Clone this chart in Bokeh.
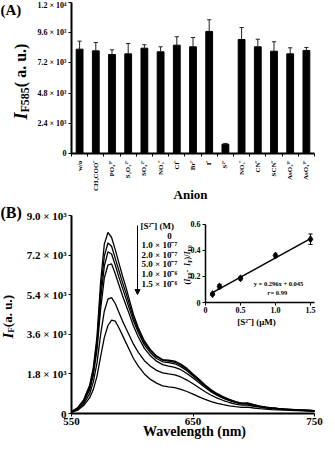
import math
from bokeh.plotting import figure
from bokeh.layouts import column
from bokeh.models import Range1d, LinearAxis, FixedTicker, Label, Arrow, NormalHead
from bokeh.embed import file_html
from bokeh.resources import INLINE

# ---------------- data: panel A ----------------
anions = ["w/o", "CH₃COO⁻", "PO₄³⁻", "S₂O₃²⁻", "SO₄²⁻", "NO₃⁻", "Cl⁻", "Br⁻",
          "I⁻", "S²⁻", "NO₂⁻", "CN⁻", "SCN⁻", "AsO₃³⁻", "AsO₄³⁻"]
intensity = [8290, 8160, 7870, 7920, 8370, 8080, 8610, 8480, 9700, 740,
             9060, 8480, 8130, 7920, 8190]
intensity_err = [640, 660, 370, 820, 270, 400, 670, 740, 930, 60,
                 950, 600, 750, 480, 240]
a_yticks = [0, 2400, 4800, 7200, 9600, 12000]
a_ylabels = ["0", "2.4 × 10³", "4.8 × 10³", "7.2 × 10³", "9.6 × 10³", "1.2 × 10⁴"]

# ---------------- data: panel B ----------------
wavelength = [550, 555, 560, 565, 568, 571, 574, 577, 580, 583, 586, 589, 592, 595,
              598, 601, 605, 610, 615, 620, 625, 630, 635, 640, 645, 650, 655, 660,
              665, 670, 675, 680, 685, 690, 695, 700, 705, 710, 715, 720, 725, 730,
              735, 740, 745, 750]
spec_0 = [90, 260, 620, 1300, 2100, 3500, 6000, 7700, 8230, 8000, 7450, 6850, 6250, 5700,
          5100, 4500, 3900, 3300, 2900, 2620, 2450, 2420, 2380, 2250, 2050, 1800, 1560, 1300,
          1080, 900, 760, 640, 540, 470, 480, 400, 340, 290, 260, 230, 210, 190,
          170, 160, 150, 130]
spec_1 = [80, 240, 580, 1220, 1980, 3300, 5600, 7150, 7750, 7600, 7050, 6500, 5950, 5450,
          4900, 4350, 3800, 3220, 2850, 2580, 2420, 2380, 2330, 2200, 2000, 1760, 1520, 1270,
          1050, 880, 740, 620, 530, 460, 460, 390, 330, 285, 250, 225, 200, 185,
          165, 155, 145, 125]
spec_2 = [75, 230, 560, 1150, 1880, 3100, 5200, 6700, 7350, 7250, 6750, 6200, 5700, 5200,
          4700, 4200, 3680, 3120, 2760, 2500, 2350, 2310, 2260, 2130, 1940, 1710, 1480, 1240,
          1030, 860, 720, 610, 520, 450, 450, 380, 325, 280, 245, 220, 195, 180,
          160, 150, 140, 120]
spec_3 = [70, 210, 520, 1080, 1760, 2900, 4750, 6150, 6750, 6800, 6350, 5850, 5350, 4900,
          4450, 3980, 3480, 2960, 2620, 2380, 2220, 2150, 2100, 1990, 1820, 1610, 1400, 1180,
          980, 820, 690, 580, 500, 440, 430, 370, 315, 270, 240, 215, 190, 175,
          160, 145, 135, 120]
spec_4 = [60, 180, 440, 900, 1450, 2300, 3600, 4650, 5200, 5270, 5000, 4600, 4200, 3850,
          3500, 3150, 2780, 2400, 2150, 1960, 1850, 1800, 1760, 1660, 1520, 1350, 1170, 990,
          830, 700, 590, 500, 430, 380, 380, 330, 285, 250, 220, 200, 180, 165,
          150, 140, 130, 115]
spec_5 = [50, 150, 360, 720, 1100, 1700, 2600, 3450, 4000, 4240, 4200, 3900, 3550, 3200,
          2850, 2500, 2150, 1800, 1550, 1380, 1260, 1210, 1180, 1100, 1000, 880, 760, 640,
          540, 460, 400, 350, 310, 280, 290, 250, 220, 200, 180, 165, 150, 140,
          130, 120, 110, 100]
spectra = [spec_0, spec_1, spec_2, spec_3, spec_4, spec_5]
conc_labels = ["0", "1.0 × 10⁻⁷", "2.0 × 10⁻⁷", "5.0 × 10⁻⁷", "1.0 × 10⁻⁶", "1.5 × 10⁻⁶"]
b_yticks = [0, 1800, 3600, 5400, 7200, 9000]
b_ylabels = ["0", "1.8 × 10³", "3.6 × 10³", "5.4 × 10³", "7.2 × 10³", "9.0 × 10³"]
b_xticks = [550, 650, 750]

# inset
s_conc = [0.1, 0.2, 0.5, 1.0, 1.5]
ratio = [0.064, 0.123, 0.185, 0.36, 0.485]
ratio_err = [0.01, 0.015, 0.012, 0.012, 0.04]
fit_x = [0.1, 1.5]
fit_y = [0.075, 0.489]
inset_xticks = [0, 0.5, 1.0, 1.5]
inset_xlabels = ["0", "0.5", "1.0", "1.5"]
inset_yticks = [0, 0.2, 0.4, 0.6]
inset_ylabels = ["0", "0.2", "0.4", "0.6"]

FONT = "Liberation Serif"
W = {"(": 0.333, ")": 0.333, " ": 0.25, ".": 0.25, "a": 0.5, "u": 0.556, "I": 0.389,
     "F": 0.611, "-": 0.333, "/": 0.278}

# page layout (pixels): canvas of each figure
PAGE_L, PAGE_R = 8, 335
A_TOP, A_BOT = 8, 210
B_TOP, B_BOT = 210, 456


def runw(s, size):
    return sum(W.get(c, 0.5) for c in s) * size


def lab(p, text, px, py, cb, size, style="bold", align="left", baseline="middle", angle=0.0):
    p.add_layout(Label(x=px - PAGE_L, y=cb - py, x_units="screen", y_units="screen", text=text,
                       text_font=FONT, text_font_size=f"{size}px", text_font_style=style,
                       text_align=align, text_baseline=baseline, angle=angle,
                       text_color="black"))


def vlabel(p, runs, px, py_bottom, cb):
    y = py_bottom
    for text, size, style, dx in runs:
        lab(p, text, px + dx, y, cb, size, style, "left", "middle", math.pi / 2)
        y -= runw(text, size)


def style_axis(ax, size, lw):
    ax.major_label_text_font = FONT
    ax.major_label_text_font_style = "bold"
    ax.major_label_text_font_size = f"{size}px"
    ax.major_label_text_color = "black"
    ax.axis_line_color = "black"
    ax.axis_line_width = lw
    ax.major_tick_line_color = "black"
    ax.major_tick_line_width = 1
    ax.major_tick_in = 0
    ax.major_tick_out = 3
    ax.minor_tick_line_color = None


def make_fig(xr, yr, h):
    p = figure(width=PAGE_R - PAGE_L, height=h, x_range=xr, y_range=yr,
               output_backend="svg", toolbar_location=None,
               x_axis_location=None, y_axis_location=None, min_border=0)
    p.grid.visible = False
    p.outline_line_color = None
    return p


# ---------------- panel A ----------------
A_FL, A_FR, A_FB, A_FT = 79, 322, 161, 10     # page position of the plot area
UA = (A_FR - A_FL) / len(anions)
KA = (A_FB - A_FT) / 12000
pA = make_fig(Range1d(-0.5 + (PAGE_L - A_FL) / UA, -0.5 + (PAGE_R - A_FL) / UA),
              Range1d(-(A_BOT - A_FB) / KA, (A_FB - A_TOP) / KA), A_BOT - A_TOP)
xs = list(range(len(anions)))
pA.vbar(x=xs, top=intensity, width=0.42, fill_color="black", line_color="black")
tops = [v + e for v, e in zip(intensity, intensity_err)]
pA.segment(x0=xs, y0=intensity, x1=xs, y1=tops, line_color="#222222", line_width=1)
pA.segment(x0=[x - 0.13 for x in xs], y0=tops, x1=[x + 0.13 for x in xs], y1=tops,
           line_color="#222222", line_width=1)

axA = LinearAxis(fixed_location=0, bounds=(-0.5, len(anions) - 0.5))
style_axis(axA, 7, 2)
axA.ticker = FixedTicker(ticks=xs, minor_ticks=[x - 0.5 for x in range(len(anions) + 1)])
axA.major_label_overrides = {i: a for i, a in enumerate(anions)}
axA.major_tick_out = 0
axA.major_tick_line_color = None
axA.minor_tick_line_color = "black"
axA.minor_tick_in = 0
axA.minor_tick_out = 3
axA.major_label_standoff = 4
axA.major_label_orientation = math.pi / 2
pA.add_layout(axA, "below")

ayA = LinearAxis(fixed_location=-0.5, bounds=(0, 12000))
style_axis(ayA, 8, 2)
ayA.ticker = FixedTicker(ticks=a_yticks, minor_ticks=[])
ayA.major_label_overrides = dict(zip(a_yticks, a_ylabels))
ayA.major_label_standoff = 2
pA.add_layout(ayA, "left")

lab(pA, "(A)", 8, 9, A_BOT, 15, "bold", "left", "top")
lab(pA, "Anion", 198, 202, A_BOT, 13, "bold", "center", "middle")
vlabel(pA, [("I", 18, "bold italic", 0), ("F585", 12, "bold", 4), (" ( a. u.)", 16, "bold", 0)],
       28, 127, A_BOT)

# ---------------- panel B ----------------
B_FL, B_FR, B_FB, B_FT = 79, 322, 421, 223
KBX = (B_FR - B_FL) / 200
KBY = (B_FB - B_FT) / 9000
pB = make_fig(Range1d(550 + (PAGE_L - B_FL) / KBX, 550 + (PAGE_R - B_FL) / KBX),
              Range1d(-(B_BOT - B_FB) / KBY, (B_FB - B_TOP) / KBY), B_BOT - B_TOP)
for s in spectra:
    pB.line(wavelength, s, line_color="black", line_width=1.3)

axB = LinearAxis(fixed_location=0, bounds=(550, 750))
style_axis(axB, 11, 2)
axB.ticker = FixedTicker(ticks=b_xticks, minor_ticks=[])
axB.major_label_standoff = 1
pB.add_layout(axB, "below")
ayB = LinearAxis(fixed_location=550, bounds=(0, 9000))
style_axis(ayB, 11, 2)
ayB.ticker = FixedTicker(ticks=b_yticks, minor_ticks=[])
ayB.major_label_overrides = dict(zip(b_yticks, b_ylabels))
ayB.major_label_standoff = 2
pB.add_layout(ayB, "left")

lab(pB, "(B)", 8, 220, B_BOT, 16, "bold", "left", "middle")
lab(pB, "Wavelength (nm)", 202, 439, B_BOT, 14, "bold", "center", "middle")
vlabel(pB, [("I", 15, "bold italic", 0), ("F", 9, "bold", 3), (" (a. u.)", 13, "bold", 0)],
       15, 346, B_BOT)

# legend of concentrations
lab(pB, "[S²⁻] (M)", 148, 233, B_BOT, 9, "bold", "left", "middle")
for i, t in enumerate(conc_labels):
    if i == 0:
        lab(pB, t, 177, 243, B_BOT, 9, "bold", "center", "middle")
    else:
        lab(pB, t, 149, 243 + 9.6 * i, B_BOT, 9, "bold", "left", "middle")
pB.add_layout(Arrow(x_start=145 - PAGE_L, y_start=B_BOT - 233, x_end=145 - PAGE_L,
                    y_end=B_BOT - 302, start_units="screen", end_units="screen",
                    line_width=1, line_color="black",
                    end=NormalHead(size=5, fill_color="black", line_color="black")))

# ---------------- inset (extra ranges inside panel B) ----------------
IX0, IY0, KX, KY = 213.0, 310.0, 70.0, 130.5
pB.extra_x_ranges = {"ix": Range1d((PAGE_L - IX0) / KX, (PAGE_R - IX0) / KX)}
pB.extra_y_ranges = {"iy": Range1d(-(B_BOT - IY0) / KY, (IY0 - B_TOP) / KY)}

iax = LinearAxis(x_range_name="ix", y_range_name="iy", fixed_location=0, bounds=(0, 1.55))
style_axis(iax, 8, 1.5)
iax.ticker = FixedTicker(ticks=inset_xticks, minor_ticks=[])
iax.major_label_overrides = dict(zip(inset_xticks, inset_xlabels))
iax.major_label_standoff = 1
pB.add_layout(iax, "below")

iay = LinearAxis(x_range_name="ix", y_range_name="iy", fixed_location=0, bounds=(0, 0.6))
style_axis(iay, 8, 1.5)
iay.ticker = FixedTicker(ticks=inset_yticks, minor_ticks=[])
iay.major_label_overrides = dict(zip(inset_yticks, inset_ylabels))
iay.major_label_standoff = 2
pB.add_layout(iay, "left")

pB.line(fit_x, fit_y, x_range_name="ix", y_range_name="iy", line_color="black", line_width=1.5)
lo = [r - e for r, e in zip(ratio, ratio_err)]
hi = [r + e for r, e in zip(ratio, ratio_err)]
pB.segment(x0=s_conc, y0=lo, x1=s_conc, y1=hi, x_range_name="ix", y_range_name="iy",
           line_color="black", line_width=1)
for yy in (lo, hi):
    pB.segment(x0=[c - 0.03 for c in s_conc], y0=yy, x1=[c + 0.03 for c in s_conc], y1=yy,
               x_range_name="ix", y_range_name="iy", line_color="black", line_width=1)
pB.scatter(s_conc, ratio, marker="diamond", size=7, fill_color="black", line_color="black",
           x_range_name="ix", y_range_name="iy")

lab(pB, "[S²⁻] (μM)", 264, 329, B_BOT, 9, "bold", "center", "middle")
lab(pB, "y = 0.296x + 0.045", 286, 291, B_BOT, 6.5, "bold", "center", "middle")
lab(pB, "r", 275, 300, B_BOT, 6.5, "bold italic", "left", "middle")
lab(pB, " = 0.99", 278, 300, B_BOT, 6.5, "bold", "left", "middle")
vlabel(pB, [("(", 8, "bold", 0), ("I", 8, "bold italic", 0), ("F0", 5.5, "bold", 2),
            (" - ", 8, "bold", 0), ("I", 8, "bold italic", 0), ("F", 5.5, "bold", 2),
            (")/", 8, "bold", 0), ("I", 8, "bold italic", 0), ("F0", 5.5, "bold", 2)],
       195, 292, B_BOT)

layout = column(pA, pB)
open("out.html", "w").write(file_html(layout, INLINE))
